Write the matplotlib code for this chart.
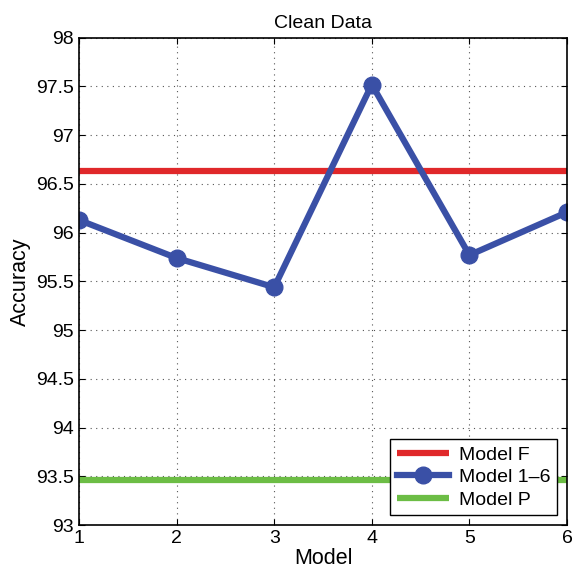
import matplotlib
matplotlib.use("Agg")
import matplotlib.pyplot as plt

models = [1, 2, 3, 4, 5, 6]
acc_models = [96.13, 95.74, 95.44, 97.52, 95.77, 96.21]
acc_full = 96.63
acc_p = 93.46
yticks = [93, 93.5, 94, 94.5, 95, 95.5, 96, 96.5, 97, 97.5, 98]
yticklabels = ["93", "93.5", "94", "94.5", "95", "95.5", "96", "96.5", "97", "97.5", "98"]

plt.rcParams['font.family'] = ['Liberation Sans', 'DejaVu Sans']
fig = plt.figure(figsize=(5.73, 5.72), dpi=100)
ax = fig.add_axes([0.138, 0.082, 0.8515, 0.852])

ax.plot([1, 6], [acc_full, acc_full], color='#e0282a', lw=4.5, label='Model F', solid_capstyle='butt')
ax.plot(models, acc_models, color='#3a50a6', lw=4.5, marker='o', markersize=12,
        label='Model 1\u20136')
ax.plot([1, 6], [acc_p, acc_p], color='#6cbd45', lw=4.5, label='Model P', solid_capstyle='butt')

ax.set_xlim(1, 6)
ax.set_ylim(93, 98)
ax.set_xticks(models)
ax.set_yticks(yticks)
ax.set_yticklabels(yticklabels)
ax.tick_params(direction='in', labelsize=14, top=True, right=True, length=4, width=0.8)
ax.grid(True, linestyle=(0, (1, 4)), color='#555555', linewidth=0.8)
for s in ax.spines.values():
    s.set_linewidth(1.2)
ax.set_title('Clean Data', fontsize=14, pad=7)
ax.set_xlabel('Model', fontsize=15.5, labelpad=1)
ax.set_ylabel('Accuracy', fontsize=15.5, labelpad=4)
leg = ax.legend(loc='lower right', fontsize=14, fancybox=False, framealpha=1,
                edgecolor='black', handlelength=2.7, borderaxespad=0.5,
                labelspacing=0.25, handletextpad=0.5, borderpad=0.35)
leg.get_frame().set_linewidth(1.0)
fig.savefig('out.png', dpi=100)
